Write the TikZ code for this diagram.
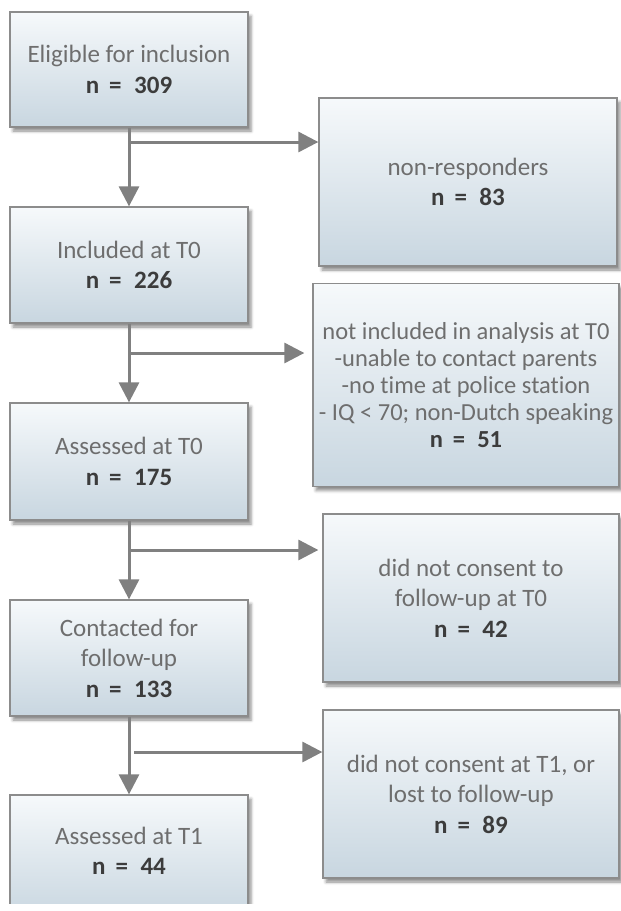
\documentclass[tikz,border=0pt]{standalone}
\usepackage{fontspec}
\setmainfont[Ligatures=NoCommon]{Carlito}
\usetikzlibrary{arrows.meta,shadows.blur,calc}
\definecolor{linegray}{RGB}{128,128,128}
\definecolor{boxborder}{RGB}{140,140,140}
\definecolor{boxtop}{RGB}{246,249,251}
\definecolor{boxbot}{RGB}{200,214,224}
\definecolor{labgray}{RGB}{110,110,110}
\definecolor{numgray}{RGB}{60,60,60}
\tikzset{
  flowbox/.style={draw=boxborder, line width=1.3pt, top color=boxtop, bottom color=boxbot,
    blur shadow={shadow xshift=3pt, shadow yshift=-4pt, shadow blur radius=3pt, shadow opacity=45},
    align=center, text=labgray, inner sep=0pt,
    font=\fontsize{25}{30.5}\selectfont},
  arr/.style={draw=linegray, line width=3pt, -{Triangle[length=20pt,width=20pt]}},
}
\newcommand{\nline}[1]{{\bfseries\color{numgray}n\hspace{0.4em}=\hspace{0.5em}#1}}
\begin{document}
\begin{tikzpicture}[x=1pt,y=-1pt]
\useasboundingbox (0,0) rectangle (621,911);
\begin{scope}
\clip (0,0) rectangle (621,903);
% left column
\node[flowbox, minimum width=238, minimum height=115] (b1) at (129,69.5) {Eligible for inclusion\\\nline{309}};
\node[flowbox, minimum width=238, minimum height=116] (b2) at (129,265) {Included at T0\\\nline{226}};
\node[flowbox, minimum width=238, minimum height=117] (b3) at (129,461.5) {Assessed at T0\\\nline{175}};
\node[flowbox, minimum width=238, minimum height=116] (b4) at (129,658) {Contacted for\\follow-up\\\nline{133}};
\node[flowbox, minimum width=238, minimum height=125] (b5) at (129,857.5) {};
\node[text=labgray, align=center, font=\fontsize{25}{30.5}\selectfont, inner sep=0pt] (t5) at (129,851) {Assessed at T1\\\nline{44}};
% right column
\node[flowbox, minimum width=298, minimum height=168] (nr) at (468,182) {non-responders\\\nline{83}};
\node[flowbox, minimum width=306, minimum height=203, font=\fontsize{24.5}{27}\selectfont] (ni) at (466,385) {not included in analysis at T0\\-unable to contact parents\\-no time at police station\\- IQ < 70; non-Dutch speaking\\\nline{51}};
\node[flowbox, minimum width=296, minimum height=168] (nc) at (471,598) {did not consent to\\follow-up at T0\\\nline{42}};
\node[flowbox, minimum width=296, minimum height=168] (nl) at (471,794) {did not consent at T1, or\\lost to follow-up\\\nline{89}};
% connectors
\draw[arr] (b1.south) -- (b2.north);
\draw[arr] (b2.south) -- (b3.north);
\draw[arr] (b3.south) -- (b4.north);
\draw[arr] (b4.south) -- (b5.north);
\coordinate (c1) at (129,142);
\coordinate (c2) at (129,353);
\coordinate (c3) at (129,550);
\coordinate (c4) at (134,752);
\draw[arr] (c1) -- (c1 -| nr.west);
\draw[arr] (c2) -- ($(c2 -| ni.west)+(-8,0)$);
\draw[arr] (c3) -- ($(c3 -| nc.west)+(-4,0)$);
\draw[arr] (c4) -- (c4 -| nl.west);
\end{scope}
\end{tikzpicture}
\end{document}
